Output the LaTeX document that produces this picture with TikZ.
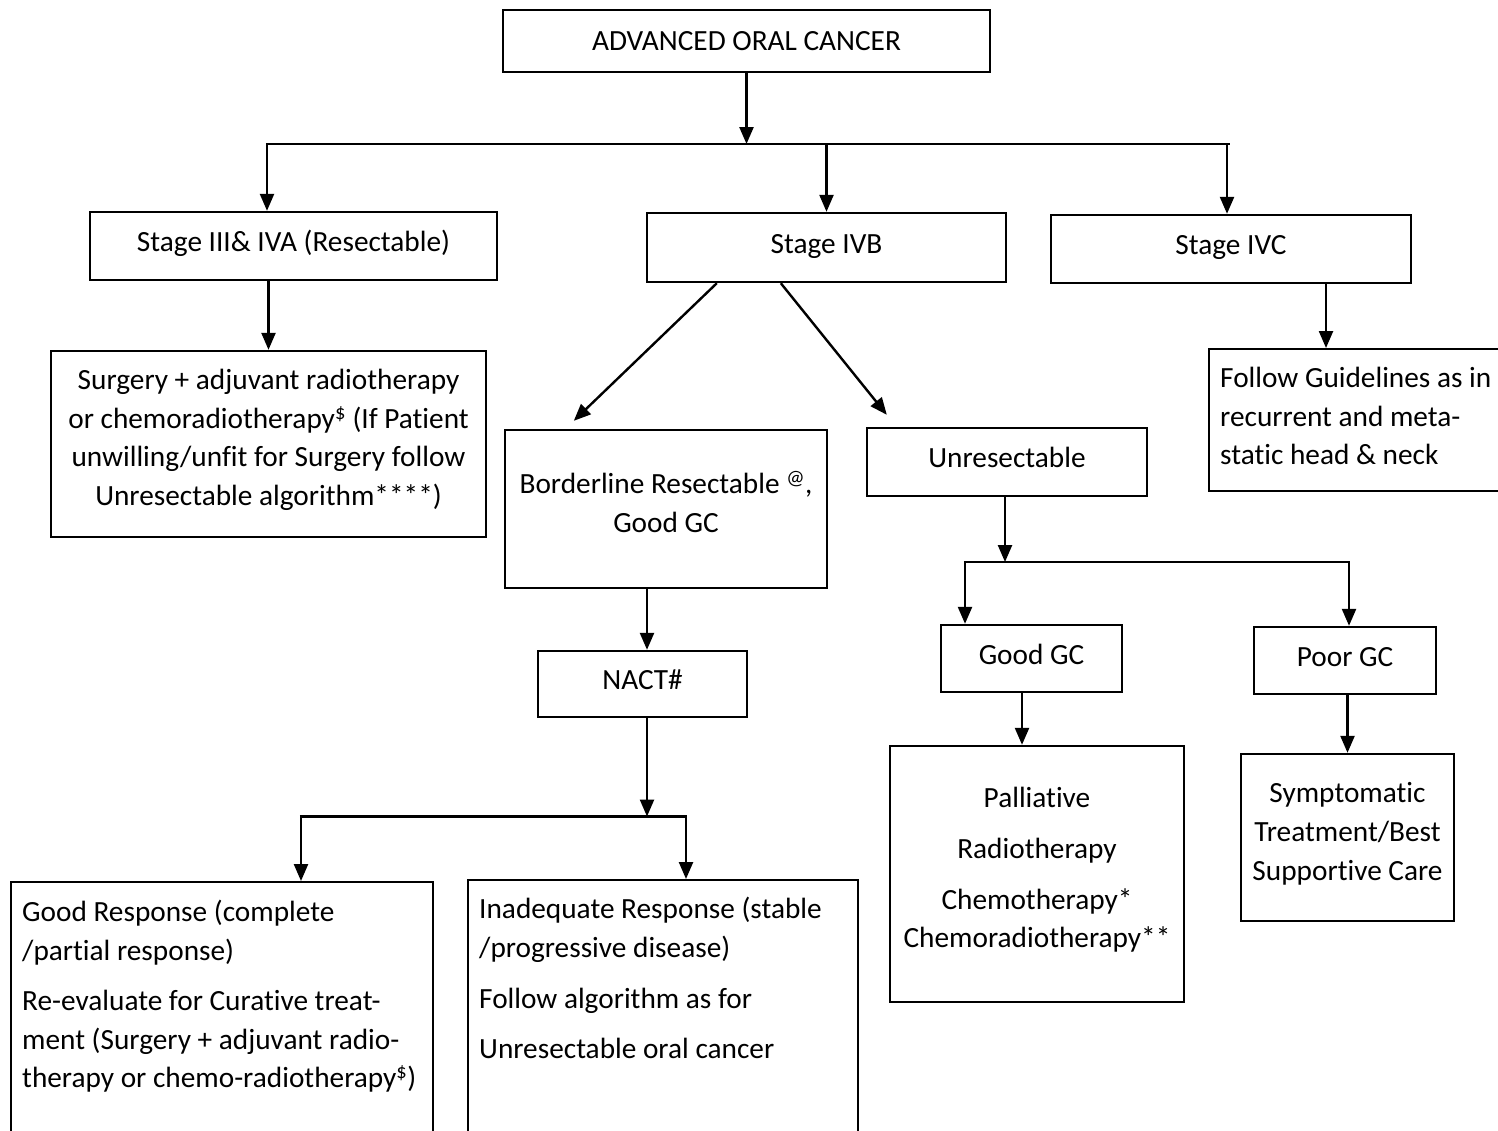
\documentclass[tikz,border=0pt]{standalone}
\usepackage{fontspec}
\setmainfont{Carlito}[Ligatures={NoCommon,NoContextual}, RawFeature={-calt}]
\usetikzlibrary{arrows.meta}
\newcommand{\flowfont}{\fontsize{29.3}{38.7}\selectfont}
% invisible strut that deepens the last line, lifting centred text a little
\newcommand{\liftstrut}[1]{\rule[-#1]{0pt}{#1}}
\begin{document}
\begin{tikzpicture}[x=1pt,y=-1pt,
  box/.style={draw, line width=2.4pt, inner sep=0pt, align=center, font=\flowfont},
  oneline/.style={box, text height=22pt, text depth=11pt},
  ln/.style={line width=2.4pt},
  arr/.style={line width=2.4pt, -{Triangle[width=14pt,length=17pt]}},
  ]
\clip (0,0) rectangle (1498,1130);

% boxes
\node[box, minimum width=487pt, minimum height=62pt] (top) at (746.5,41) {ADVANCED ORAL CANCER};
\node[oneline, minimum width=407pt, minimum height=68pt] (s3) at (293.5,246) {Stage III\& IVA (Resectable)};
\node[oneline, minimum width=359pt, minimum height=69pt] (s4b) at (826.5,247.5) {Stage IVB};
\node[oneline, minimum width=360pt, minimum height=68pt] (s4c) at (1231,249) {Stage IVC};
\node[box, minimum width=435pt, minimum height=186pt] (surg) at (268.5,444)
  {Surgery + adjuvant radiotherapy\\or chemoradiotherapy\textsuperscript{\$} (If Patient\\unwilling/unfit for Surgery follow\\Unresectable algorithm****)\liftstrut{13.5pt}};
\node[box, anchor=north west, inner xsep=11pt, inner ysep=18pt] (fg) at (1208,348)
  {\parbox[t][106pt][t]{300pt}{\raggedright
   Follow Guidelines as in\\recurrent and meta-\\static head \& neck}};
\node[box, minimum width=322pt, minimum height=158pt] (bord) at (666,509)
  {Borderline Resectable \textsuperscript{@},\\Good GC\liftstrut{14pt}};
\node[oneline, minimum width=280pt, minimum height=68pt] (unres) at (1007,462) {Unresectable};
\node[oneline, minimum width=209pt, minimum height=66pt] (nact) at (642.5,684) {NACT\#};
\node[oneline, minimum width=181pt, minimum height=67pt] (goodgc) at (1031.5,658.5) {Good GC};
\node[oneline, minimum width=182pt, minimum height=67pt] (poorgc) at (1345,660.5) {Poor GC};
\node[box, minimum width=294pt, minimum height=256pt] (pall) at (1037,874)
  {Palliative\\[12pt]Radiotherapy\\[12pt]Chemotherapy*\\Chemoradiotherapy**\liftstrut{12.5pt}};
\node[box, minimum width=213pt, minimum height=167pt] (symp) at (1347.5,837.5)
  {Symptomatic\\Treatment/Best\\Supportive Care\liftstrut{12.5pt}};
\node[box, anchor=north west, inner xsep=11pt, inner ysep=18pt] (goodr) at (10,881)
  {\parbox[t][250pt][t]{400pt}{\raggedright
   Good Response (complete\\/partial response)\\[11.5pt]
   Re-evaluate for Curative treat-\\ment (Surgery + adjuvant radio-\\therapy or chemo-radiotherapy\textsuperscript{\$})}};
\node[box, anchor=north west, inner xsep=11pt, inner ysep=17pt] (inadr) at (467,879)
  {\parbox[t][250pt][t]{368pt}{\raggedright
   Inadequate Response (stable\\/progressive disease)\\[12pt]
   Follow algorithm as for\\[12pt]Unresectable oral cancer}};

% junction points
\coordinate (b1l) at (267,144);
\coordinate (b1r) at (1227,144);
\coordinate (nx) at (647,0);
\coordinate (b2l) at (301,816.5);
\coordinate (b2r) at (686,816.5);
\coordinate (ux) at (1005,0);
\coordinate (b3l) at (965,562);
\coordinate (b3r) at (1349,562);
\coordinate (gx) at (1022,0);
\coordinate (cx) at (1326,0);

% connectors
\draw[arr] (top.south) -- (top.south |- b1l);
\draw[ln] ([xshift=-1.2pt]b1l) -- ([xshift=2.5pt]b1r);
\draw[arr] (b1l) -- (b1l |- s3.north);
\draw[arr] (s4b.north |- b1l) -- (s4b.north);
\draw[arr] (b1r) -- (b1r |- s4c.north);

\draw[arr] (surg.north |- s3.south) -- (surg.north);
\draw[arr] (cx |- s4c.south) -- (cx |- fg.north);

\draw[arr] ([xshift=71pt]s4b.south west) -- ([xshift=70pt,yshift=8pt]bord.north west);
\draw[arr] ([xshift=135pt]s4b.south west) -- ([xshift=21pt,yshift=12pt]unres.north west);

\draw[arr] (nx |- bord.south) -- (nx |- nact.north);
\draw[arr] (nx |- nact.south) -- (nx |- b2l);
\draw[ln] ([xshift=-1.2pt]b2l) -- ([xshift=1.2pt]b2r);
\draw[arr] (b2l) -- (b2l |- goodr.north);
\draw[arr] (b2r) -- (b2r |- inadr.north);

\draw[arr] (ux |- unres.south) -- (ux |- b3l);
\draw[ln] ([xshift=-1.2pt]b3l) -- ([xshift=1.2pt]b3r);
\draw[arr] (b3l) -- (b3l |- goodgc.north);
\draw[arr] (b3r) -- (b3r |- poorgc.north);

\draw[arr] (gx |- goodgc.south) -- (gx |- pall.north);
\draw[arr] (symp.north |- poorgc.south) -- (symp.north);
\end{tikzpicture}
\end{document}
